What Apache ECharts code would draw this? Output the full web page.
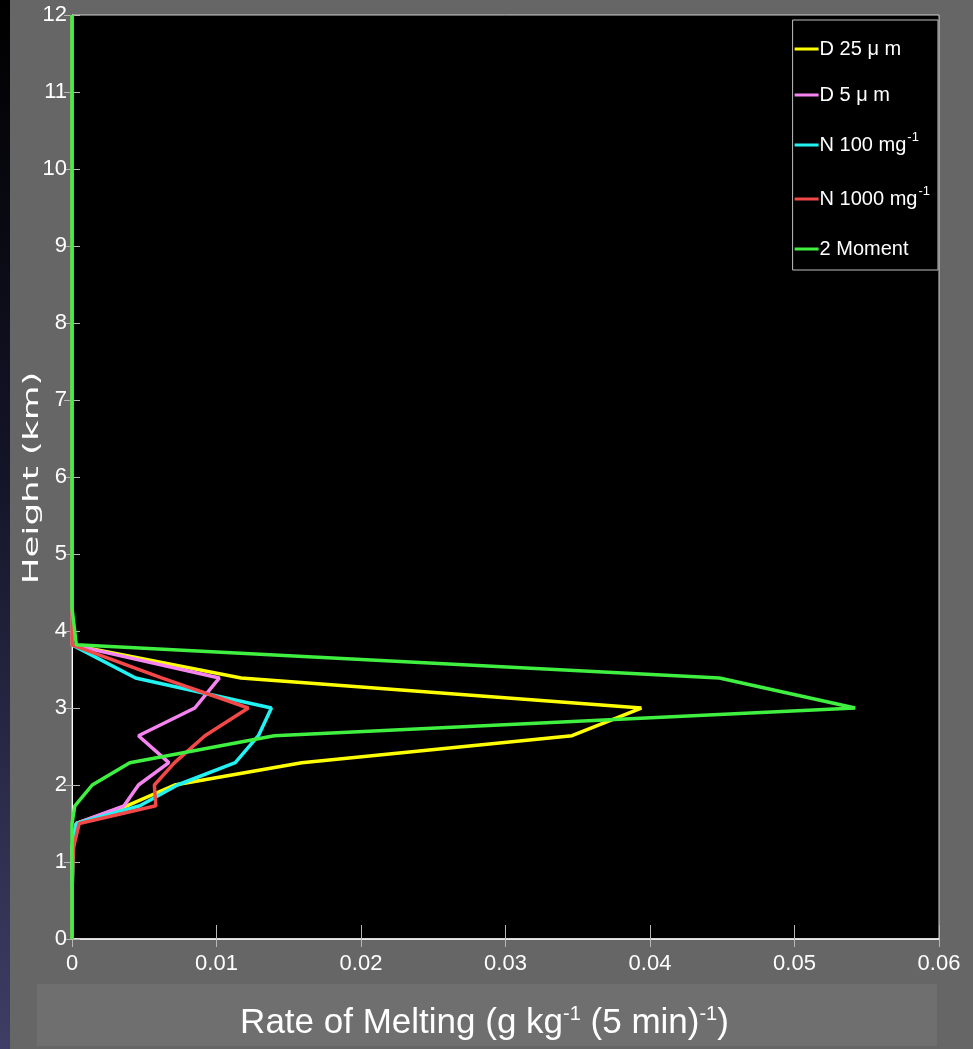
<!DOCTYPE html>
<html>
<head>
<meta charset="utf-8">
<script src="https://cdn.jsdelivr.net/npm/echarts@6/dist/echarts.min.js"></script>
<style>html,body{margin:0;padding:0;background:#666666;}#c{width:973px;height:1049px;}</style>
</head>
<body>
<div id="c"></div>
<script>
// Heights (km) shared by all profiles
const heights = [0, 0.6, 1.19, 1.5, 1.73, 2.0, 2.29, 2.64, 3.0, 3.39, 3.82, 4.3, 5, 6, 7, 8, 9, 10, 11, 12];
// Rate of melting (g kg-1 (5 min)-1)
const d25   = [0, 0, 0, 0.0003, 0.0038, 0.0071, 0.0159, 0.0346, 0.0394, 0.0117, 0, 0, 0, 0, 0, 0, 0, 0, 0, 0];
const d5    = [0, 0, 0, 0.0003, 0.0036, 0.0046, 0.0067, 0.0046, 0.0085, 0.0102, 0, 0, 0, 0, 0, 0, 0, 0, 0, 0];
const n100  = [0, 0, 0.0001, 0.0003, 0.0047, 0.0073, 0.0113, 0.0129, 0.0138, 0.0044, 0, 0, 0, 0, 0, 0, 0, 0, 0, 0];
const n1000 = [0, 0, 0.0001, 0.0005, 0.0058, 0.0057, 0.0071, 0.0092, 0.0122, 0.0062, 0, 0, 0, 0, 0, 0, 0, 0, 0, 0];
const mom2  = [0, 0, 0, 0, 0.0002, 0.0014, 0.0040, 0.0140, 0.0542, 0.0448, 0.0003, 0, 0, 0, 0, 0, 0, 0, 0, 0];
const xTicks = ['0', '0.01', '0.02', '0.03', '0.04', '0.05', '0.06'];
const yTicks = ['0','1','2','3','4','5','6','7','8','9','10','11','12'];

const seriesDefs = [
  {name: 'D 25 μ m', data: d25, color: '#ffff00'},
  {name: 'D 5 μ m', data: d5, color: '#f584f0'},
  {name: 'N 100 mg-1', data: n100, color: '#22f2f2'},
  {name: 'N 1000 mg-1', data: n1000, color: '#f24848'},
  {name: '2 Moment', data: mom2, color: '#3ff040'}
];
const legendRich = {
  'D 25 μ m': '{a|D 25 μ m}',
  'D 5 μ m': '{a|D 5 μ m}',
  'N 100 mg-1': '{a|N 100 mg}{s|-1}',
  'N 1000 mg-1': '{a|N 1000 mg}{s|-1}',
  '2 Moment': '{a|2 Moment}'
};
const sans = "'Liberation Sans', Arial, sans-serif";

const chart = echarts.init(document.getElementById('c'), null, {renderer: 'canvas'});
const option = {
  backgroundColor: '#666666',
  animation: false,
  graphic: [
    {type: 'rect', z: -10, shape: {x: 0, y: 0, width: 10, height: 1049},
     style: {fill: new echarts.graphic.LinearGradient(0, 0, 0, 1, [
       {offset: 0, color: '#000000'}, {offset: 0.45, color: '#141428'}, {offset: 1, color: '#3e3e66'}])}},
    {type: 'rect', z: -10, shape: {x: 37, y: 984, width: 900, height: 62}, style: {fill: '#6f6f6f'}},
    {type: 'text', x: 33, y: 478, rotation: Math.PI / 2, scaleX: 1.7,
     style: {text: 'Height (km)', fill: '#ffffff', font: "21px 'DejaVu Sans'", align: 'center', verticalAlign: 'middle'}}
  ],
  grid: {left: 72, right: 34, top: 15, bottom: 110, show: true, backgroundColor: '#000000',
         borderColor: '#d0d0d0', borderWidth: 1},
  legend: {
    orient: 'vertical', right: 35, top: 20, icon: 'rect', itemWidth: 24, itemHeight: 3, itemGap: 26,
    backgroundColor: '#000000', borderColor: '#c0c0c0', borderWidth: 1, borderRadius: 0,
    padding: [19, 8, 11, 2],
    formatter: function (n) { return legendRich[n]; },
    textStyle: {color: '#ffffff', fontFamily: sans, fontSize: 20, padding: [0, 0, 0, -4],
      rich: {
        a: {color: '#ffffff', fontFamily: sans, fontSize: 20, lineHeight: 24},
        s: {color: '#ffffff', fontFamily: sans, fontSize: 13, lineHeight: 24, padding: [0, 0, 15, 1]}
      }}
  },
  xAxis: [{
    type: 'value', min: 0, max: 0.06, interval: 0.01,
    axisLine: {show: true, onZero: false, lineStyle: {color: '#ffffff', width: 1.5}},
    axisTick: {show: true, inside: true, length: 14, lineStyle: {color: '#b8b8b8'}},
    axisLabel: {color: '#ffffff', fontSize: 22, fontFamily: sans, margin: 14,
      formatter: function (v, i) { return xTicks[i]; }},
    splitLine: {show: false},
    name: '{a|Rate of Melting (g kg}{s|-1}{a| (5 min)}{s|-1}{a|)}',
    nameLocation: 'middle', nameGap: 64,
    nameTextStyle: {color: '#ffffff', padding: [0, 42, 0, 0], rich: {
      a: {color: '#ffffff', fontFamily: sans, fontSize: 35, lineHeight: 40},
      s: {color: '#ffffff', fontFamily: sans, fontSize: 20, lineHeight: 40, padding: [0, 0, 18, 0]}
    }}
  }, {
    type: 'value', position: 'top', min: 0, max: 0.06, interval: 0.01,
    axisLine: {show: false}, axisTick: {show: true, inside: true, length: 8, lineStyle: {color: '#b8b8b8'}},
    axisLabel: {show: false}, splitLine: {show: false}
  }],
  yAxis: [{
    type: 'value', min: 0, max: 12, interval: 1,
    axisLine: {show: true, onZero: false, lineStyle: {color: '#ffffff', width: 1}},
    axisTick: {show: true, inside: true, length: 8, lineStyle: {color: '#b8b8b8'}},
    axisLabel: {color: '#ffffff', fontSize: 22, fontFamily: sans, margin: 5,
      formatter: function (v, i) { return yTicks[i]; }},
    splitLine: {show: false}
  }, {
    type: 'value', position: 'right', min: 0, max: 12, interval: 1,
    axisLine: {show: false}, axisTick: {show: true, inside: true, length: 8, lineStyle: {color: '#b8b8b8'}},
    axisLabel: {show: false}, splitLine: {show: false}
  }],
  series: seriesDefs.map(function (s) {
    return {
      name: s.name, type: 'line', xAxisIndex: 0, yAxisIndex: 0,
      data: s.data.map(function (v, i) { return [v, heights[i]]; }),
      showSymbol: false, symbol: 'none', color: s.color,
      lineStyle: {color: s.color, width: 3.5}, clip: true
    };
  })
};
chart.setOption(option);
</script>
</body>
</html>
